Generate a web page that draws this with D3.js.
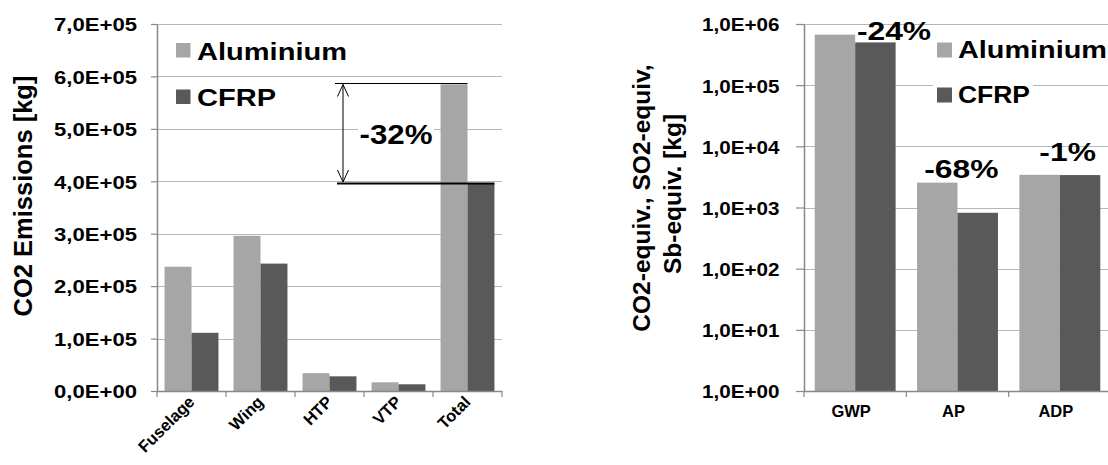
<!DOCTYPE html>
<html>
<head>
<meta charset="utf-8">
<script src="https://cdn.jsdelivr.net/npm/d3@7/dist/d3.min.js"></script>
<style>
  html, body { margin: 0; padding: 0; background: #fff; }
  svg { display: block; }
  text { font-family: "Liberation Sans", Arial, sans-serif; font-weight: bold; fill: #000; }
</style>
</head>
<body>
<svg id="chart" width="1108" height="465"></svg>
<script>
// ---------- data ----------
const seriesNames = ["Aluminium", "CFRP"];
const leftCategories = ["Fuselage", "Wing", "HTP", "VTP", "Total"];
const leftAluminium = [237000, 296000, 34000, 16600, 585000];
const leftCFRP = [111000, 243000, 28000, 12800, 396000];
const leftTicks = [0, 100000, 200000, 300000, 400000, 500000, 600000, 700000];
const leftTickLabels = ["0,0E+00", "1,0E+05", "2,0E+05", "3,0E+05", "4,0E+05", "5,0E+05", "6,0E+05", "7,0E+05"];
const leftTitle = "CO2 Emissions [kg]";
const totalChangeLabel = "-32%";

const rightCategories = ["GWP", "AP", "ADP"];
const rightAluminium = [670000, 2550, 3420];
const rightCFRP = [500000, 820, 3390];
const rightTicks = [1, 10, 100, 1000, 10000, 100000, 1000000];
const rightTickLabels = ["1,0E+00", "1,0E+01", "1,0E+02", "1,0E+03", "1,0E+04", "1,0E+05", "1,0E+06"];
const rightTitleLines = ["CO2-equiv.,  SO2-equiv,", "Sb-equiv. [kg]"];
const rightChangeLabels = ["-24%", "-68%", "-1%"];

// ---------- style ----------
const colors = { "Aluminium": "#a6a6a6", "CFRP": "#595959" };
const gridColor = "#b7b7b7";
const axisColor = "#898989";
const svg = d3.select("#chart");

function stretch(sel, f) {
  sel.each(function () {
    const len = this.getComputedTextLength();
    d3.select(this).attr("textLength", len * f).attr("lengthAdjust", "spacingAndGlyphs");
  });
}
function fitWidth(sel, w) {
  sel.attr("textLength", w).attr("lengthAdjust", "spacingAndGlyphs");
}

function drawBars(g, cats, al, cf, x0, x1, y, base) {
  const rows = cats.map((c, i) => ({ cat: c, vals: [al[i], cf[i]] }));
  g.selectAll("g.cat").data(rows).join("g")
    .attr("class", "cat")
    .attr("transform", d => `translate(${x0(d.cat)},0)`)
    .selectAll("rect").data(d => d.vals.map((v, j) => ({ s: seriesNames[j], v })))
    .join("rect")
    .attr("x", d => x1(d.s))
    .attr("width", x1.bandwidth())
    .attr("y", d => y(d.v))
    .attr("height", d => base - y(d.v))
    .attr("fill", d => colors[d.s]);
}

// ================= LEFT CHART =================
const L = { left: 157, right: 502, top: 24, bottom: 391 };
const xL0 = d3.scaleBand().domain(leftCategories).range([L.left, L.right]).paddingInner(0).paddingOuter(0);
const xL1 = d3.scaleBand().domain(seriesNames).range([0, xL0.bandwidth()]).paddingInner(0).paddingOuter(0.28);
const yL = d3.scaleLinear().domain([0, 700000]).range([L.bottom, L.top]);

const gL = svg.append("g");
gL.append("g").selectAll("line").data(leftTicks.filter(d => d > 0)).join("line")
  .attr("x1", L.left).attr("x2", L.right)
  .attr("y1", d => Math.round(yL(d)) + 0.5).attr("y2", d => Math.round(yL(d)) + 0.5)
  .attr("stroke", gridColor).attr("stroke-width", 1.2);

drawBars(gL.append("g"), leftCategories, leftAluminium, leftCFRP, xL0, xL1, yL, L.bottom);

const yAxisL = d3.axisLeft(yL).tickValues(leftTicks).tickFormat((d, i) => leftTickLabels[i]).tickSize(6).tickSizeOuter(0).tickPadding(14);
const gyL = gL.append("g").attr("transform", `translate(${L.left},0)`).call(yAxisL);
gyL.select(".domain").attr("stroke", axisColor).attr("stroke-width", 1.5);
gyL.selectAll(".tick line").attr("stroke", axisColor).attr("stroke-width", 1.2);
gyL.selectAll(".tick text").attr("font-size", 19).attr("dy", "0.36em").attr("x", -20)
  .style("font-family", '"Liberation Sans", Arial, sans-serif').style("font-weight", "bold").attr("fill", "#000");
fitWidth(gyL.selectAll(".tick text"), 83);

// x axis
const gxL = gL.append("g");
gxL.append("line").attr("x1", L.left).attr("x2", L.right).attr("y1", L.bottom + 0.5).attr("y2", L.bottom + 0.5)
  .attr("stroke", axisColor).attr("stroke-width", 1.5);
gxL.selectAll("line.t").data(leftCategories.map(c => xL0(c)).concat([L.right])).join("line")
  .attr("class", "t").attr("x1", d => d).attr("x2", d => d).attr("y1", L.bottom).attr("y2", L.bottom + 6)
  .attr("stroke", axisColor).attr("stroke-width", 1.2);
gxL.selectAll("text.xl").data(leftCategories).join("text")
  .attr("class", "xl")
  .attr("transform", d => `translate(${xL0(d) + xL0.bandwidth() / 2 + 4},${L.bottom + 12}) rotate(-45)`)
  .attr("text-anchor", "end").attr("font-size", 16.5).text(d => d);

// y title
gL.append("text").attr("transform", `translate(32,196) rotate(-90)`)
  .attr("text-anchor", "middle").attr("font-size", 25.5).text(leftTitle);

// legend (left)
const legL = gL.append("g");
seriesNames.forEach((s, i) => {
  const yy = i === 0 ? 43 : 89.5;
  legL.append("rect").attr("x", 176).attr("y", yy).attr("width", 14.5).attr("height", 14.5).attr("fill", colors[s]);
  const t = legL.append("text").attr("x", 197).attr("y", yy + 16.5).attr("font-size", 24).text(s);
  stretch(t, 1.21);
});

// -32% annotation
const iTot = leftCategories.indexOf("Total");
const yTopAnn = Math.round(yL(leftAluminium[iTot])) + 0.5;
const yBotAnn = Math.round(yL(leftCFRP[iTot]));
const annX = xL0("HTP") + 48;
const ann = gL.append("g");
ann.append("line").attr("x1", annX - 8).attr("x2", xL0("Total") + xL1("Aluminium") + xL1.bandwidth())
  .attr("y1", yTopAnn - 1).attr("y2", yTopAnn - 1).attr("stroke", "#000").attr("stroke-width", 1);
ann.append("line").attr("x1", annX - 6).attr("x2", xL0("Total") + xL1("CFRP") + xL1.bandwidth())
  .attr("y1", yBotAnn + 0.5).attr("y2", yBotAnn + 0.5).attr("stroke", "#000").attr("stroke-width", 2.2);
ann.append("line").attr("x1", annX).attr("x2", annX).attr("y1", yTopAnn).attr("y2", yBotAnn - 1)
  .attr("stroke", "#000").attr("stroke-width", 1);
ann.append("path").attr("d", `M${annX - 5.5},${yTopAnn + 12} L${annX},${yTopAnn} L${annX + 5.5},${yTopAnn + 12}`)
  .attr("fill", "none").attr("stroke", "#000").attr("stroke-width", 1);
ann.append("path").attr("d", `M${annX - 5.5},${yBotAnn - 13} L${annX},${yBotAnn - 1} L${annX + 5.5},${yBotAnn - 13}`)
  .attr("fill", "none").attr("stroke", "#000").attr("stroke-width", 1);
ann.append("rect").attr("x", 358).attr("y", 118).attr("width", 76).attr("height", 28).attr("fill", "#fff");
const pctL = ann.append("text").attr("x", 396).attr("y", 144).attr("text-anchor", "middle").attr("font-size", 27).text(totalChangeLabel);
fitWidth(pctL, 73);

// ================= RIGHT CHART =================
const R = { left: 804, right: 1111, top: 24, bottom: 391 };
const xR0 = d3.scaleBand().domain(rightCategories).range([R.left, R.right]).paddingInner(0).paddingOuter(0);
const xR1 = d3.scaleBand().domain(seriesNames).range([0, xR0.bandwidth()]).paddingInner(0).paddingOuter(0.265);
const yR = d3.scaleLog().domain([1, 1000000]).range([R.bottom, R.top]);

const gR = svg.append("g");
gR.append("g").selectAll("line").data(rightTicks.filter(d => d > 1)).join("line")
  .attr("x1", R.left).attr("x2", 1108)
  .attr("y1", d => Math.round(yR(d)) + 0.5).attr("y2", d => Math.round(yR(d)) + 0.5)
  .attr("stroke", gridColor).attr("stroke-width", 1.2);

drawBars(gR.append("g"), rightCategories, rightAluminium, rightCFRP, xR0, xR1, yR, R.bottom);

const yAxisR = d3.axisLeft(yR).tickValues(rightTicks).tickFormat((d, i) => rightTickLabels[i]).tickSize(8).tickSizeOuter(0);
const gyR = gR.append("g").attr("transform", `translate(${R.left},0)`).call(yAxisR);
gyR.select(".domain").attr("stroke", axisColor).attr("stroke-width", 1.5);
gyR.selectAll(".tick line").attr("stroke", axisColor).attr("stroke-width", 1.2);
gyR.selectAll(".tick text").attr("font-size", 19).attr("dy", "0.36em").attr("x", -24.5)
  .style("font-family", '"Liberation Sans", Arial, sans-serif').style("font-weight", "bold").attr("fill", "#000");
fitWidth(gyR.selectAll(".tick text"), 77.5);

const gxR = gR.append("g");
gxR.append("line").attr("x1", R.left).attr("x2", 1108).attr("y1", R.bottom + 0.5).attr("y2", R.bottom + 0.5)
  .attr("stroke", axisColor).attr("stroke-width", 1.5);
gxR.selectAll("line.t").data(rightCategories.map(c => xR0(c))).join("line")
  .attr("class", "t").attr("x1", d => d).attr("x2", d => d).attr("y1", R.bottom).attr("y2", R.bottom + 6)
  .attr("stroke", axisColor).attr("stroke-width", 1.2);
gxR.selectAll("text").data(rightCategories).join("text")
  .attr("x", d => xR0(d) + xR0.bandwidth() / 2 - 4).attr("y", 417)
  .attr("text-anchor", "middle").attr("font-size", 16.5).text(d => d);

gR.append("text").attr("transform", `translate(649.5,198) rotate(-90)`)
  .attr("text-anchor", "middle").attr("font-size", 24.5).text(rightTitleLines[0]);
gR.append("text").attr("transform", `translate(681,194) rotate(-90)`)
  .attr("text-anchor", "middle").attr("font-size", 24.5).text(rightTitleLines[1]);

const legR = gR.append("g");
legR.append("rect").attr("x", 933).attr("y", 36).attr("width", 175).attr("height", 28).attr("fill", "#fff");
legR.append("rect").attr("x", 933).attr("y", 80).attr("width", 100).attr("height", 28).attr("fill", "#fff");
seriesNames.forEach((s, i) => {
  const yy = i === 0 ? 42.5 : 87.5;
  legR.append("rect").attr("x", 937).attr("y", yy).attr("width", 15).attr("height", 15).attr("fill", colors[s]);
  const t = legR.append("text").attr("x", 958).attr("y", yy + 15.5).attr("font-size", 23).text(s);
  fitWidth(t, i === 0 ? 149 : 72);
});

const pctPos = [{ dx: 90, y: 40 }, { dx: 55, y: 178 }, { dx: 59, y: 161 }];
gR.selectAll("text.pct").data(rightChangeLabels).join("text")
  .attr("class", "pct")
  .attr("x", (d, i) => xR0(rightCategories[i]) + pctPos[i].dx)
  .attr("y", (d, i) => pctPos[i].y)
  .attr("text-anchor", "middle").attr("font-size", 26.5).text(d => d)
  .call(stretch, 1.2);
</script>
</body>
</html>
